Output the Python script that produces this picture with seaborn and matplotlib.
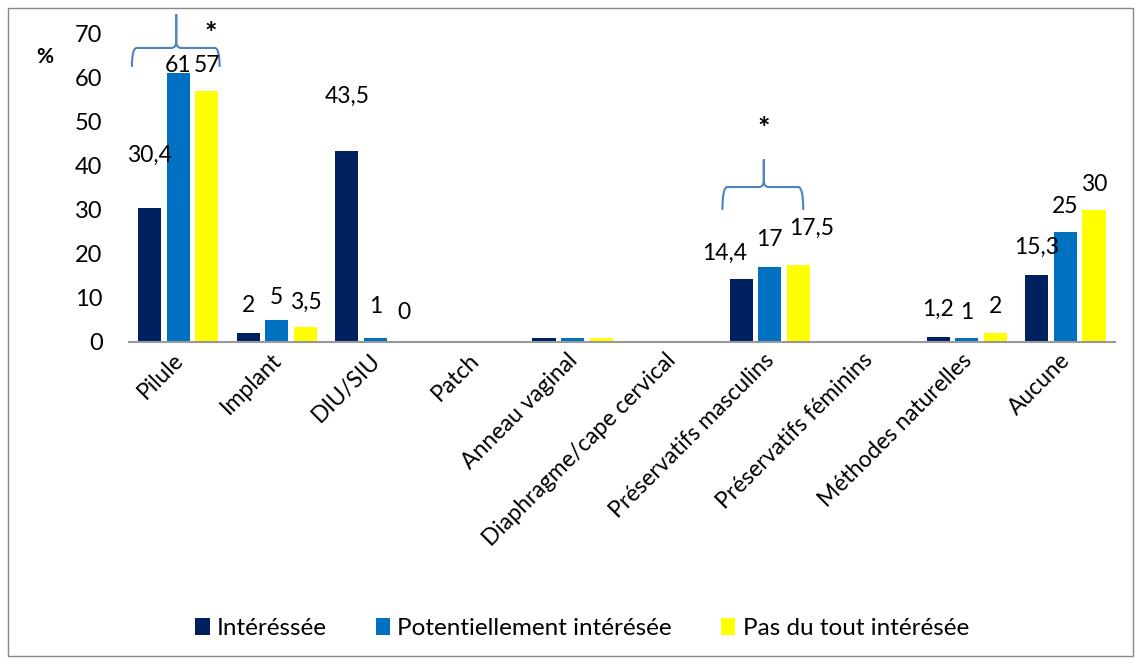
import seaborn as sns
import pandas as pd
import matplotlib.pyplot as plt
import matplotlib.transforms as mtransforms
from matplotlib.patches import Rectangle, PathPatch
from matplotlib.path import Path

categories = ["Pilule", "Implant", "DIU/SIU", "Patch", "Anneau vaginal",
              "Diaphragme/cape cervical", "Préservatifs masculins",
              "Préservatifs féminins", "Méthodes naturelles", "Aucune"]
series = ["Intéréssée", "Potentiellement intérésée", "Pas du tout intérésée"]
interessee = [30.4, 2, 43.5, 0, 0.8, 0, 14.4, 0, 1.2, 15.3]
potentiel = [61, 5, 1, 0, 0.8, 0, 17, 0, 1, 25]
pas_du_tout = [57, 3.5, 0, 0, 0.8, 0, 17.5, 0, 2, 30]
# labels shown above bars ('' = no label)
lab_int = ["30,4", "2", "43,5", "", "", "", "14,4", "", "1,2", "15,3"]
lab_pot = ["61", "5", "1", "", "", "", "17", "", "1", "25"]
lab_pas = ["57", "3,5", "0", "", "", "", "17,5", "", "2", "30"]
colors = ["#002060", "#0070C0", "#FFFF00"]

# label placement (the labels were hand-placed in the original)
lab_y = [
    [42.5, 8.2, 55.7, 0, 0, 0, 20.2, 0, 7.3, 21.4],
    [62.7, 10, 8, 0, 0, 0, 23.2, 0, 6.8, 30.7],
    [62.7, 8.9, 6.6, 0, 0, 0, 25.9, 0, 8, 35.7],
]
lab_dx = [
    [0, 0, 0, 0, 0, 0, -0.17, 0, 0, 0],
    [0, 0, 0, 0, 0, 0, 0, 0, 0, 0],
    [0, 0, 0, 0, 0, 0, 0.13, 0, 0, 0],
]

df = pd.DataFrame({
    "cat": categories * 3,
    "grp": [series[0]] * 10 + [series[1]] * 10 + [series[2]] * 10,
    "val": interessee + potentiel + pas_du_tout,
})

plt.rcParams['font.family'] = ['Lato', 'DejaVu Sans']
fig = plt.figure(figsize=(11.41, 6.64), dpi=100)
ax = fig.add_axes([0.113, 0.485, 0.864, 0.464])
sns.barplot(data=df, x="cat", y="val", hue="grp", palette=colors,
            width=0.87, gap=0.19, ax=ax, legend=True, saturation=1)

for cont, labs, ys, dxs in zip(ax.containers, [lab_int, lab_pot, lab_pas], lab_y, lab_dx):
    texts = ax.bar_label(cont, labels=labs, fontsize=16.5)
    for t, bar, y, dx in zip(texts, cont, ys, dxs):
        t.set_position((0, 0))
        t.xy = (bar.get_x() + bar.get_width() / 2 + dx, y)
        t.set_va("center")

ax.set_ylim(0, 70)
ax.set_yticks(range(0, 71, 10))
ax.set_xlim(-0.5, 9.5)
ax.set_xlabel("")
ax.set_ylabel("")
for s in ["top", "right", "left"]:
    ax.spines[s].set_visible(False)
ax.spines["bottom"].set_color("#999999")
ax.spines["bottom"].set_linewidth(1.5)
ax.tick_params(axis="y", length=0, labelsize=17, pad=19)
ax.tick_params(axis="x", length=0, labelsize=16.5, pad=4)
shift = mtransforms.ScaledTranslation(-6 / 100, -2 / 100, fig.dpi_scale_trans)
for t in ax.get_xticklabels():
    t.set_rotation(45)
    t.set_ha("right")
    t.set_rotation_mode("anchor")
    t.set_transform(t.get_transform() + shift)

fig.text(0.032, 0.905, "%", fontsize=15, fontweight="bold")


def brace(x0, x1, xm, yb, yh, yt):
    d = 0.05
    r = 1.5
    codes = [Path.MOVETO, Path.CURVE3, Path.CURVE3, Path.LINETO,
             Path.CURVE3, Path.CURVE3, Path.LINETO]
    left = [(x0, yb), (x0, yh), (x0 + d, yh), (xm - d, yh),
            (xm, yh), (xm, yh + r), (xm, yt)]
    right = [(x1, yb), (x1, yh), (x1 - d, yh), (xm + d, yh),
             (xm, yh), (xm, yh + r), (xm, yt)]
    for verts in (left, right):
        ax.add_patch(PathPatch(Path(verts, codes), fill=False, edgecolor="#4F81BD",
                               lw=1.5, clip_on=False))


brace(-0.47, 0.42, -0.02, 62.5, 66.8, 74.5)
ax.text(0.33, 70.0, "*", fontsize=21, ha="center", va="center", fontweight="bold")
brace(5.52, 6.34, 5.94, 30, 35.2, 41.5)
ax.text(5.94, 48.3, "*", fontsize=21, ha="center", va="center", fontweight="bold")

handles, labels = ax.get_legend_handles_labels()
ax.legend(handles, labels, loc="center", bbox_to_anchor=(0.51, 0.054),
          bbox_transform=fig.transFigure, ncol=3, frameon=False, fontsize=17.5,
          handlelength=0.6, handleheight=0.7, handletextpad=0.3, columnspacing=2.0)

fig.patches.append(Rectangle((0.007, 0.012), 0.986, 0.976, transform=fig.transFigure,
                             fill=False, edgecolor="#888888", lw=1))
fig.savefig("out.png", dpi=100)
